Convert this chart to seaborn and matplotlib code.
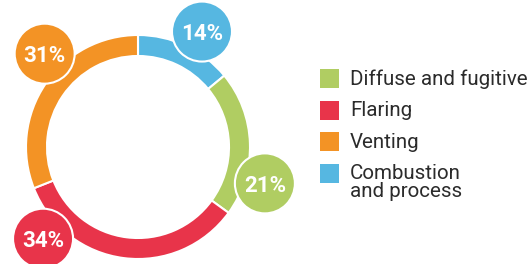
import numpy as np
import matplotlib
matplotlib.use("Agg")
import matplotlib.pyplot as plt
import seaborn as sns
from matplotlib.patches import Circle, Rectangle

# ── data ────────────────────────────────────────────────────────────────
categories = ["Diffuse and fugitive", "Flaring", "Venting", "Combustion\nand process"]
shares = [21, 34, 31, 14]
colors = ["#b0cd62", "#e8344a", "#f39325", "#56b7e1"]
pie_order = [3, 0, 1, 2]           # clockwise from 12 o'clock
badge_angles = [106, 226, 315, 29]  # degrees clockwise from top

sns.set_theme(style="white")
plt.rcParams["font.family"] = ["Roboto", "DejaVu Sans"]

fig = plt.figure(figsize=(5.3, 2.64), dpi=100)

# donut axes: one data unit == one pixel, centre of ring at (0, 0)
ax = fig.add_axes([0, 0, 300 / 530, 1])
ax.set_xlim(-138, 162)
ax.set_ylim(-117, 147)
ax.set_aspect("equal")
ax.axis("off")

R, W = 112, 21
ax.pie([shares[i] for i in pie_order],
       colors=[colors[i] for i in pie_order],
       startangle=90, counterclock=False, radius=R,
       wedgeprops=dict(width=W, edgecolor="white", linewidth=1.5))
ax.set_xlim(-138, 162)
ax.set_ylim(-117, 147)

# percentage badges
for share, col, ang in zip(shares, colors, badge_angles):
    t = np.deg2rad(90 - ang)
    x, y = 132 * np.cos(t), 132 * np.sin(t)
    ax.add_patch(Circle((x, y), 30, facecolor=col, edgecolor="white",
                        linewidth=1.5, zorder=5))
    ax.text(x, y, "{}%".format(share), color="white", fontsize=16,
            fontweight="bold", ha="center", va="center_baseline", zorder=6)

# legend drawn in pixel space
lax = fig.add_axes([0, 0, 1, 1])
lax.set_xlim(0, 530)
lax.set_ylim(264, 0)
lax.axis("off")
for i, (lab, col) in enumerate(zip(categories, colors)):
    y0 = 69 + i * 31.5
    lax.add_patch(Rectangle((320, y0), 19, 19, facecolor=col, edgecolor="none"))
    lax.text(350, y0 + 0.5, lab, color="#2b2b2b", fontsize=14.8, ha="left",
             va="top", linespacing=0.95)

fig.savefig("out.png", dpi=100)
